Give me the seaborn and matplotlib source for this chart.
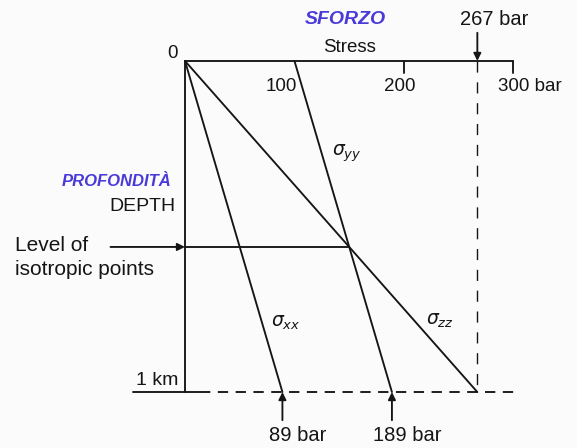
import matplotlib
matplotlib.use("Agg")
import matplotlib.pyplot as plt
import numpy as np
import pandas as pd
import seaborn as sns

# Stress (bar) along the three principal directions, at the surface and at 1 km depth
depth_km = [0.0, 1.0]
sigma_xx = [0.0, 89.0]
sigma_yy = [100.0, 189.0]
sigma_zz = [0.0, 267.0]
stress_ticks = [100, 200, 300]
stress_tick_labels = ["100", "200", "300 bar"]

df = pd.DataFrame({
    "depth": depth_km * 3,
    "stress": sigma_xx + sigma_yy + sigma_zz,
    "component": ["xx"] * 2 + ["yy"] * 2 + ["zz"] * 2,
})

sns.set_theme(style="white")
plt.rcParams["font.family"] = ["Liberation Sans", "DejaVu Sans"]
ink = "#151515"
blue = "#4a3ad8"
fs = 13.5

fig = plt.figure(figsize=(5.77, 4.48), dpi=100, facecolor="#fbfbfb")
ax = fig.add_axes([0, 0, 1, 1])
ax.set_facecolor("#fbfbfb")
ax.set_xlim(-168.9, 358.0)
ax.set_ylim(1.169, -0.184)
ax.axis("off")

lw = 1.35
sns.lineplot(data=df, x="stress", y="depth", units="component", estimator=None,
             sort=False, color=ink, linewidth=lw, ax=ax, legend=False)

# Isotropic level: where sigma_yy equals sigma_zz
gy = (sigma_yy[1] - sigma_yy[0]) / (depth_km[1] - depth_km[0])
gz = (sigma_zz[1] - sigma_zz[0]) / (depth_km[1] - depth_km[0])
z_iso = (sigma_yy[0] - sigma_zz[0]) / (gz - gy)
s_iso = sigma_zz[0] + gz * z_iso

# Axes drawn by hand: stress axis on top, depth axis on the left
ax.plot([0, 300], [0, 0], color=ink, lw=lw)
ax.plot([0, 0], [0, 1.0], color=ink, lw=lw)
for t in [200, 300]:
    ax.plot([t, t], [0, 0.035], color=ink, lw=lw)
ax.plot([-47, 14], [1.0, 1.0], color=ink, lw=lw)
ax.plot([14, 302], [1.0, 1.0], color=ink, lw=lw, ls=(0, (5.5, 4)))
ax.plot([sigma_zz[1], sigma_zz[1]], [0.0, 1.0], color=ink, lw=1.0, ls=(0, (8, 7)))
ax.plot([0, s_iso], [z_iso, z_iso], color=ink, lw=lw)

# Stress tick labels, set slightly off their ticks
label_x = {"100": 88, "200": 196, "300 bar": 286}
for t, lab in zip(stress_ticks, stress_tick_labels):
    ha = "left" if lab == "300 bar" else "center"
    ax.text(label_x[lab], 0.078, lab, ha=ha, va="center", fontsize=fs, color=ink)
ax.text(-11, -0.022, "0", ha="center", va="center", fontsize=fs, color=ink)
ax.text(150, -0.042, "Stress", ha="center", va="center", fontsize=fs, color=ink)
ax.text(146, -0.125, "SFORZO", ha="center", va="center", fontsize=14, color=blue,
        fontweight="bold", style="italic")
ax.text(-62, 0.365, "PROFONDITÀ", ha="center", va="center", fontsize=12, color=blue,
        fontweight="bold", style="italic")
ax.text(-39, 0.44, "DEPTH", ha="center", va="center", fontsize=14, color=ink)
ax.text(-155, z_iso - 0.003, "Level of", ha="left", va="center", fontsize=15, color=ink)
ax.text(-155, z_iso + 0.068, "isotropic points", ha="left", va="center", fontsize=15, color=ink)
ax.text(-45, 0.965, "1 km", ha="left", va="center", fontsize=14, color=ink)

ax.text(148, 0.28, r"$\sigma_{yy}$", ha="center", va="center", fontsize=13.5, color=ink)
ax.text(92, 0.79, r"$\sigma_{xx}$", ha="center", va="center", fontsize=13.5, color=ink)
ax.text(233, 0.785, r"$\sigma_{zz}$", ha="center", va="center", fontsize=13.5, color=ink)

arrow = dict(arrowstyle="-|>", color=ink, lw=1.35, mutation_scale=11, shrinkA=0, shrinkB=0)
ax.annotate("", xy=(sigma_zz[1], 0.0), xytext=(sigma_zz[1], -0.085), arrowprops=arrow)
ax.text(sigma_zz[1] + 15, -0.125, f"{sigma_zz[1]:g} bar", ha="center", va="center",
        fontsize=14.5, color=ink)

for s in [sigma_xx[1], sigma_yy[1]]:
    ax.annotate("", xy=(s, 1.0), xytext=(s, 1.085), arrowprops=arrow)
    ax.text(s + 14, 1.13, f"{s:g} bar", ha="center", va="center", fontsize=14.5, color=ink)

ax.annotate("", xy=(0, z_iso), xytext=(-68, z_iso), arrowprops=arrow)

fig.savefig("out.png", dpi=100, facecolor=fig.get_facecolor())
